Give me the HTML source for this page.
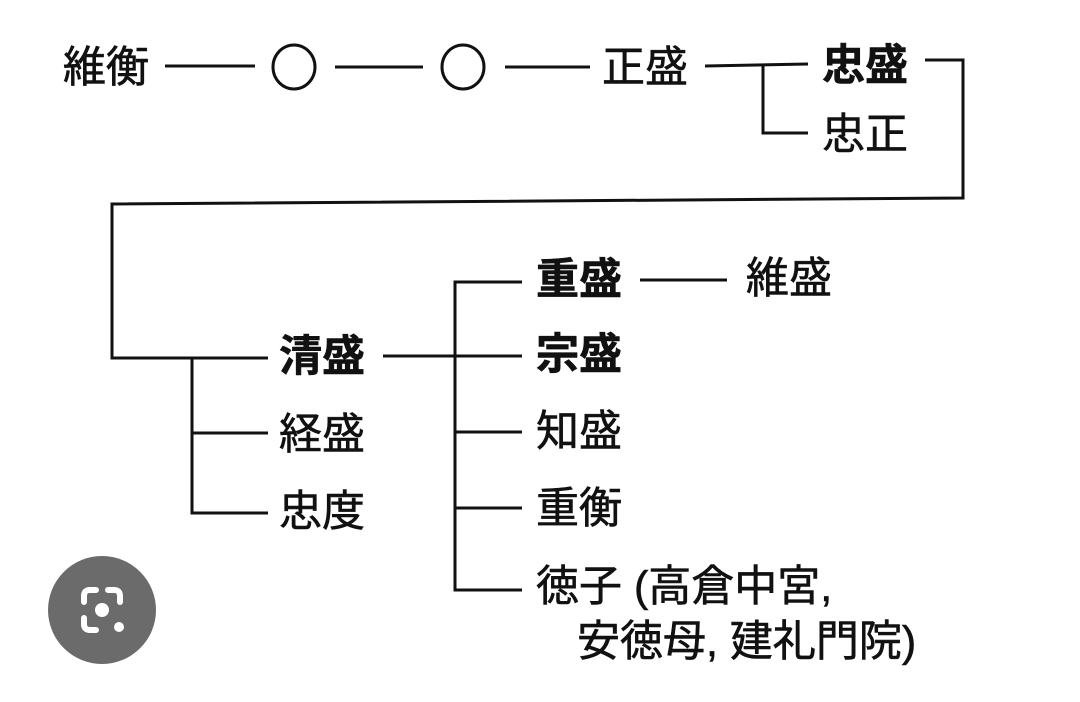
<!DOCTYPE html>
<html><head><meta charset="utf-8"><style>
html,body{margin:0;padding:0;background:#fff;}
svg{display:block;}
text{font-family:"Liberation Sans","Noto Sans CJK JP",sans-serif;font-size:43px;fill:#111;stroke:#111;stroke-width:0.6px;}
.b{font-weight:bold;}
</style></head><body>
<svg width="1080" height="702" viewBox="0 0 1080 702">
<g stroke="#111" stroke-width="3" fill="none">
<line x1="165" y1="66" x2="255" y2="66"/>
<ellipse cx="294" cy="67" rx="21" ry="22"/>
<line x1="335" y1="67" x2="423" y2="67"/>
<ellipse cx="463" cy="67" rx="21" ry="22"/>
<line x1="505" y1="67" x2="590" y2="67"/>
<line x1="705" y1="66" x2="808" y2="64"/>
<polyline points="763,66 763,133 808,133"/>
<polyline points="925,60 963,60 963,198 112,204 112,358 268,358"/>
<polyline points="192,358 192,513 268,513"/>
<line x1="192" y1="433" x2="268" y2="433"/>
<line x1="383" y1="356" x2="522" y2="356"/>
<polyline points="522,282 455,282 455,590 522,590"/>
<line x1="455" y1="432" x2="522" y2="432"/>
<line x1="455" y1="508" x2="522" y2="508"/>
<line x1="640" y1="280" x2="727" y2="280"/>
</g>
<text x="63" y="82">維衡</text>
<text x="602" y="82">正盛</text>
<text x="822" y="80" class="b">忠盛</text>
<text x="822" y="149">忠正</text>
<text x="279" y="371" class="b">清盛</text>
<text x="279" y="449">経盛</text>
<text x="279" y="526">忠度</text>
<text x="536" y="294" class="b">重盛</text>
<text x="746" y="293">維盛</text>
<text x="536" y="369" class="b">宗盛</text>
<text x="536" y="446">知盛</text>
<text x="536" y="523">重衡</text>
<text x="536" y="601">徳子 (高倉中宮,</text>
<text x="577" y="656">安徳母, 建礼門院)</text>
<circle cx="102" cy="610" r="54" fill="#6b6b6b"/>
<g stroke="#fff" stroke-width="6" fill="none" stroke-linecap="round">
<path d="M84 602 V596 Q84 590 90 590 H96 M108 590 H114 Q120 590 120 596 V602 M84 618 V624 Q84 630 90 630 H96"/>
</g>
<circle cx="102" cy="610" r="7" fill="#fff"/>
<circle cx="119" cy="627" r="5" fill="#fff"/>
</svg>
</body></html>
